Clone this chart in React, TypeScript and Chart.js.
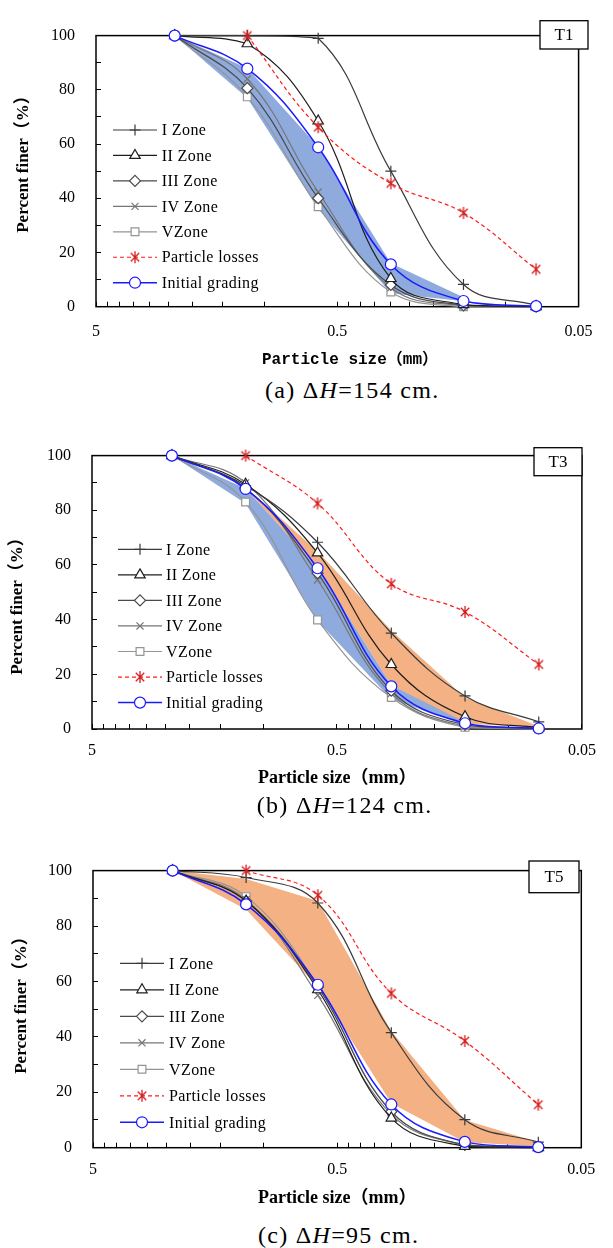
import React, { useEffect, useRef } from 'react';
import { Chart, registerables } from 'chart.js';
import { drawPoint } from 'chart.js/helpers';

Chart.register(...registerables);

// ---------------- data ----------------
const SIZES = [2.36, 1.18, 0.6, 0.3, 0.15, 0.075];
const X_TICKS = [5, 4.5, 4, 3.5, 3, 2.5, 2, 1.5, 1, 0.5, 0.45, 0.4, 0.35, 0.3, 0.25, 0.2, 0.15, 0.1, 0.05];
const X_LABELS = [5, 0.5, 0.05];
const Y_LABELS = [0, 20, 40, 60, 80, 100];
const SERIES_NAMES = ['I Zone', 'II Zone', 'III Zone', 'IV Zone', 'VZone', 'Particle losses', 'Initial grading'];

const INITIAL_GRADING = [100, 87.8, 58.8, 15.6, 2.1, 0.2];

// T1 (ΔH = 154 cm)
const T1_ZONE_I = [100, 100, 99, 50, 8.2, 0.5];
const T1_ZONE_II = [100, 97, 68.5, 10.4, 0.8, 0];
const T1_ZONE_III = [100, 80.6, 40, 8, 0.5, 0];
const T1_ZONE_IV = [100, 84, 42.3, 7, 0.3, 0];
const T1_ZONE_V = [100, 77.4, 36.9, 5.4, 0, 0];
const T1_LOSSES = [null, 100, 66.2, 45.5, 34.6, 13.8];
const T1_BLUE_LOW = [100, 77, 36, 5, 2, null];
const T1_BLUE_HIGH = [100, 88, 59, 16, 3.5, null];

// T3 (ΔH = 124 cm)
const T3_ZONE_I = [100, 89, 68.3, 35.1, 12.1, 2.6];
const T3_ZONE_II = [100, 89.5, 64.4, 23.6, 4.5, 0.5];
const T3_ZONE_III = [100, 88, 57, 14, 1.5, 0.3];
const T3_ZONE_IV = [100, 90, 54.5, 13, 1, 0.2];
const T3_ZONE_V = [100, 83, 39.9, 11.5, 0.6, 0];
const T3_LOSSES = [null, 100, 82.5, 53.1, 42.8, 23.6];
const T3_BLUE_LOW = [100, 82.5, 39.5, 11, 1.5, null];
const T3_BLUE_HIGH = [100, 88, 59, 16, 2.5, null];
const T3_ORANGE_LOW = [null, 88, 59, 16, 2, 0.5];
const T3_ORANGE_HIGH = [null, 88.5, 65, 36, 11.5, 1];

// T5 (ΔH = 95 cm)
const T5_ZONE_I = [100, 97.5, 88.3, 41.5, 10.1, 2];
const T5_ZONE_II = [100, 89, 57, 10.7, 0.5, 0];
const T5_ZONE_III = [100, 89, 58, 13, 1, 0.3];
const T5_ZONE_IV = [100, 89.5, 55, 12, 1, 0];
const T5_ZONE_V = [100, 90.6, 58.5, 13, 0.8, 0];
const T5_LOSSES = [null, 100, 91.1, 55.7, 38.5, 15.5];
const T5_ORANGE_LOW = [100, 86, 58, 16, 2, 0.5];
const T5_ORANGE_HIGH = [100, 97, 89, 42, 10, 2];

// ---------------- styles ----------------
const BLUE_BAND = '#8FAADC';
const ORANGE_BAND = '#F4B183';
const SERIF = '"Liberation Serif", "Times New Roman", serif';
const SERIF_CJK = '"Liberation Serif", "Noto Sans CJK SC", serif';

type Style = {
  color: string; width: number; point: string; radius: number; dash?: number[]; pointColor?: string; order: number;
};
const STYLES: Style[] = [
  { color: '#3a3a3a', width: 1.2, point: 'cross', radius: 5.5, order: 2 },
  { color: '#1e1e1e', width: 1.2, point: 'triangle', radius: 6, order: 3 },
  { color: '#4a4a4a', width: 1.2, point: 'rectRot', radius: 5.5, order: 4 },
  { color: '#767676', width: 1.2, point: 'crossRot', radius: 5, order: 5 },
  { color: '#959595', width: 1.2, point: 'rect', radius: 5.5, order: 6 },
  { color: '#ff1a1a', width: 1.2, point: 'asterisk', radius: 6, dash: [4, 3], pointColor: '#d41c1c', order: 1 },
  { color: '#1a1aff', width: 1.5, point: 'circle', radius: 5.5, order: 0 },
];

type Panel = {
  tag: string; letter: string; dh: string;
  top: number; height: number;
  area: { l: number; r: number; t: number; b: number };
  xPad: number;
  xTitle: { x: number; y: number; font: string };
  yTitle: { x: number; y: number };
  tbox: { x: number; y: number; w: number; h: number };
  legend: { x1: number; x2: number; tx: number; y0: number; dy: number };
  caption: { x: number; y: number };
  series: (number | null)[][];
  bands: { low: (number | null)[]; high: (number | null)[]; color: string }[];
};

const PANELS: Panel[] = [
  {
    tag: 'T1', letter: 'a', dh: '154',
    top: 0, height: 375,
    area: { l: 96, r: 597, t: 17.3, b: 306.7 },
    xPad: 20.4,
    xTitle: { x: 262, y: 360, font: `bold 16px "Liberation Mono", "Noto Sans CJK SC", monospace` },
    yTitle: { x: 23.5, y: 160 },
    tbox: { x: 540, y: 20.7, w: 48, h: 28.3 },
    legend: { x1: 113, x2: 157, tx: 161.7, y0: 130, dy: 25.45 },
    caption: { x: 265, y: 390 },
    series: [T1_ZONE_I, T1_ZONE_II, T1_ZONE_III, T1_ZONE_IV, T1_ZONE_V, T1_LOSSES, INITIAL_GRADING],
    bands: [{ low: T1_BLUE_LOW, high: T1_BLUE_HIGH, color: BLUE_BAND }],
  },
  {
    tag: 'T3', letter: 'b', dh: '124',
    top: 420, height: 375,
    area: { l: 92, r: 591, t: 443.3, b: 729 },
    xPad: 17.1,
    xTitle: { x: 258, y: 778, font: `bold 18px ${SERIF_CJK}` },
    yTitle: { x: 17.6, y: 602 },
    tbox: { x: 534, y: 447.7, w: 48, h: 28 },
    legend: { x1: 118, x2: 162, tx: 166, y0: 549.3, dy: 25.55 },
    caption: { x: 256.7, y: 805 },
    series: [T3_ZONE_I, T3_ZONE_II, T3_ZONE_III, T3_ZONE_IV, T3_ZONE_V, T3_LOSSES, INITIAL_GRADING],
    bands: [
      { low: T3_BLUE_LOW, high: T3_BLUE_HIGH, color: BLUE_BAND },
      { low: T3_ORANGE_LOW, high: T3_ORANGE_HIGH, color: ORANGE_BAND },
    ],
  },
  {
    tag: 'T5', letter: 'c', dh: '95',
    top: 835, height: 380,
    area: { l: 93, r: 589, t: 857.7, b: 1147.7 },
    xPad: 17.7,
    xTitle: { x: 258, y: 1198, font: `bold 18px ${SERIF_CJK}` },
    yTitle: { x: 21.5, y: 1001 },
    tbox: { x: 529, y: 861, w: 50, h: 31.7 },
    legend: { x1: 120, x2: 164, tx: 169, y0: 963.3, dy: 26.5 },
    caption: { x: 258, y: 1235 },
    series: [T5_ZONE_I, T5_ZONE_II, T5_ZONE_III, T5_ZONE_IV, T5_ZONE_V, T5_LOSSES, INITIAL_GRADING],
    bands: [{ low: T5_ORANGE_LOW, high: T5_ORANGE_HIGH, color: ORANGE_BAND }],
  },
];

function makeAsterisk(color: string, r: number): HTMLCanvasElement {
  const size = Math.ceil(r * 2 + 2);
  const c = document.createElement('canvas');
  c.width = size; c.height = size;
  const g = c.getContext('2d')!;
  const m = size / 2;
  g.strokeStyle = color;
  g.lineWidth = 1.3;
  g.beginPath();
  g.moveTo(m, m - r); g.lineTo(m, m + r);
  const d = r * Math.SQRT1_2;
  g.moveTo(m - d, m - d); g.lineTo(m + d, m + d);
  g.moveTo(m + d, m - d); g.lineTo(m - d, m + d);
  g.stroke();
  return c;
}

function buildConfig(p: Panel): any {
  const a = p.area;
  const star = makeAsterisk('#d41c1c', 6);
  const datasets: any[] = p.series.map((vals, i) => {
    const s = STYLES[i];
    return {
      label: SERIES_NAMES[i],
      data: SIZES.map((x, k) => ({ x, y: vals[k] })),
      borderColor: s.color,
      borderWidth: s.width,
      borderDash: s.dash || [],
      pointStyle: s.point === 'asterisk' ? star : s.point,
      pointRadius: s.radius,
      pointHoverRadius: s.radius,
      pointBorderColor: s.pointColor || s.color,
      pointBackgroundColor: '#ffffff',
      pointBorderWidth: 1.2,
      tension: 0.4,
      fill: false,
      clip: false,
      spanGaps: false,
      order: s.order,
    };
  });
  p.bands.forEach((b, j) => {
    const hiIndex = datasets.length;
    datasets.push({
      label: 'band', isBand: true,
      data: SIZES.map((x, k) => ({ x, y: b.high[k] })),
      borderColor: 'rgba(0,0,0,0)', borderWidth: 0,
      backgroundColor: b.color,
      pointRadius: 0, pointHoverRadius: 0,
      tension: 0, fill: hiIndex + 1, spanGaps: false,
      order: 20 + j * 2,
    });
    datasets.push({
      label: 'band', isBand: true,
      data: SIZES.map((x, k) => ({ x, y: b.low[k] })),
      borderColor: 'rgba(0,0,0,0)', borderWidth: 0,
      backgroundColor: b.color,
      pointRadius: 0, pointHoverRadius: 0,
      tension: 0, fill: false, spanGaps: false,
      order: 21 + j * 2,
    });
  });

  const decor = {
    id: 'decor' + p.tag,
    beforeDatasetsDraw(chart: any) {
      const { ctx, chartArea: c } = chart;
      ctx.save();
      ctx.strokeStyle = '#000';
      ctx.lineWidth = 1.5;
      ctx.strokeRect(c.left, c.top, c.right - c.left, c.bottom - c.top);
      ctx.restore();
    },
    afterDraw(chart: any) {
      const ctx: CanvasRenderingContext2D = chart.ctx;
      const T = p.top;
      ctx.save();
      // tag box
      ctx.strokeStyle = '#000';
      ctx.lineWidth = 1.3;
      ctx.fillStyle = '#fff';
      ctx.fillRect(p.tbox.x, p.tbox.y - T, p.tbox.w, p.tbox.h);
      ctx.strokeRect(p.tbox.x, p.tbox.y - T, p.tbox.w, p.tbox.h);
      ctx.fillStyle = '#000';
      ctx.font = `17px ${SERIF}`;
      ctx.textAlign = 'center';
      ctx.textBaseline = 'middle';
      ctx.fillText(p.tag, p.tbox.x + p.tbox.w / 2, p.tbox.y - T + p.tbox.h / 2 + 1);

      // legend
      const L = p.legend;
      const items = chart.data.datasets.filter((d: any) => !d.isBand);
      items.forEach((ds: any, i: number) => {
        const y = L.y0 + i * L.dy - T;
        ctx.save();
        ctx.strokeStyle = ds.borderColor;
        ctx.lineWidth = ds.borderWidth;
        ctx.setLineDash(ds.borderDash || []);
        ctx.beginPath();
        ctx.moveTo(L.x1, y);
        ctx.lineTo(L.x2, y);
        ctx.stroke();
        ctx.setLineDash([]);
        ctx.fillStyle = ds.pointBackgroundColor;
        ctx.strokeStyle = ds.pointBorderColor;
        ctx.lineWidth = ds.pointBorderWidth;
        drawPoint(ctx, { pointStyle: ds.pointStyle, radius: ds.pointRadius, borderWidth: ds.pointBorderWidth, rotation: 0 } as any, (L.x1 + L.x2) / 2, y);
        ctx.fillStyle = '#000';
        ctx.font = `16px ${SERIF}`;
        (ctx as any).letterSpacing = '0.4px';
        ctx.textAlign = 'left';
        ctx.textBaseline = 'middle';
        ctx.fillText(ds.label, L.tx, y + 1);
        ctx.restore();
      });

      // axis titles
      ctx.fillStyle = '#000';
      ctx.textBaseline = 'middle';
      ctx.textAlign = 'left';
      ctx.font = p.xTitle.font;
      ctx.fillText('Particle size（mm）', p.xTitle.x, p.xTitle.y - T);
      ctx.save();
      ctx.translate(p.yTitle.x, p.yTitle.y - T);
      ctx.rotate(-Math.PI / 2);
      ctx.textAlign = 'center';
      ctx.font = `bold 17px ${SERIF_CJK}`;
      ctx.fillText('Percent finer（%）', 0, 0);
      ctx.restore();
      ctx.restore();
    },
  };

  const gridOpts = {
    drawOnChartArea: false, drawTicks: true, tickLength: -5,
    color: '#000', tickColor: '#000', tickWidth: 1,
  };

  return {
    type: 'line',
    data: { datasets },
    plugins: [decor],
    options: {
      animation: false,
      responsive: false,
      devicePixelRatio: 1,
      events: [],
      layout: { padding: { left: 0, right: 613 - a.r, top: a.t - p.top, bottom: 0 } },
      plugins: { legend: { display: false }, tooltip: { enabled: false }, title: { display: false } },
      scales: {
        x: {
          type: 'logarithmic', position: 'bottom', min: 0.05, max: 5, reverse: true,
          afterBuildTicks: (s: any) => { s.ticks = X_TICKS.map((v) => ({ value: v })); },
          afterFit: (s: any) => { s.height = p.height - (a.b - p.top); },
          border: { display: false },
          grid: gridOpts,
          ticks: {
            autoSkip: false, maxRotation: 0, minRotation: 0, padding: p.xPad, color: '#000',
            font: { family: SERIF, size: 16 },
            callback: (v: any) => (X_LABELS.includes(Number(v)) ? String(v) : ''),
          },
        },
        y: {
          type: 'linear', position: 'left', min: 0, max: 100,
          afterFit: (s: any) => { s.width = a.l; },
          border: { display: false },
          grid: gridOpts,
          ticks: {
            stepSize: 10, padding: 26, color: '#000',
            font: { family: SERIF, size: 16 },
            callback: (v: any) => (Y_LABELS.includes(Number(v)) ? String(v) : ''),
          },
        },
      },
    },
  };
}

function PanelView({ p }: { p: Panel }) {
  const ref = useRef<HTMLCanvasElement>(null);
  useEffect(() => {
    const chart = new Chart(ref.current as HTMLCanvasElement, buildConfig(p));
    return () => chart.destroy();
  }, [p]);
  return (
    <>
      <canvas
        ref={ref}
        width={613}
        height={p.height}
        style={{ position: 'absolute', left: 0, top: p.top, width: 613, height: p.height }}
      />
      <div
        style={{
          position: 'absolute', left: p.caption.x, top: p.caption.y - 14, height: 28,
          lineHeight: '28px', fontFamily: SERIF, fontSize: 24, letterSpacing: '1.3px',
          whiteSpace: 'nowrap', color: '#000',
        }}
      >
        ({p.letter}) Δ<i>H</i>={p.dh} cm.
      </div>
    </>
  );
}

export default function App() {
  return (
    <div>
      {PANELS.map((p) => (
        <PanelView key={p.tag} p={p} />
      ))}
    </div>
  );
}
